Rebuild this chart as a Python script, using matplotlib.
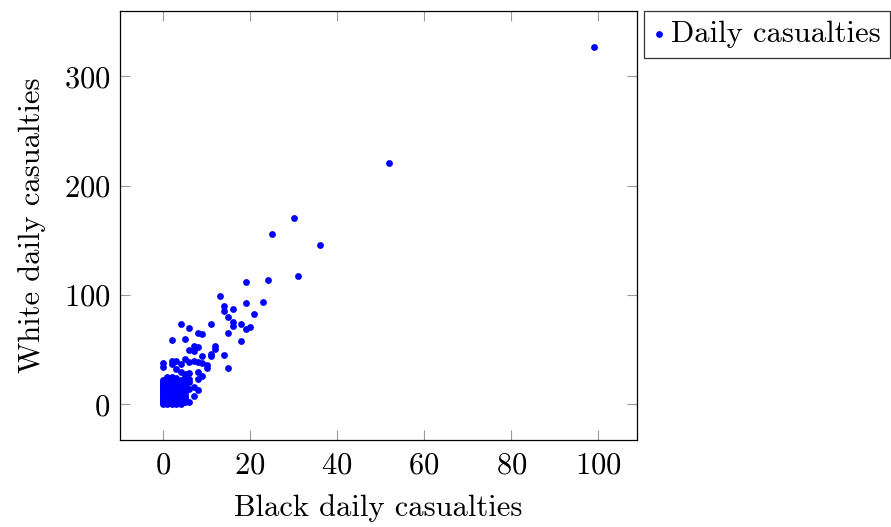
import matplotlib
matplotlib.use("Agg")
import matplotlib.pyplot as plt

plt.rcParams["font.family"] = "cmr10"
plt.rcParams["mathtext.fontset"] = "cm"
plt.rcParams["axes.formatter.use_mathtext"] = True

# outliers and mid-range days
black_mid = [99, 52, 30, 25, 36, 31, 24, 19, 13, 14, 14, 16, 19, 23, 21, 15, 16, 16,
             18, 19, 20, 15, 18, 4, 6, 11, 8, 9, 2, 5, 12, 12, 7, 8, 6, 7, 11, 11,
             14, 9, 0, 0, 2, 3, 5, 7, 6, 2, 4, 8, 9, 10, 10, 15, 8, 9, 8, 6, 6, 7,
             8, 7, 6, 5, 6, 5, 4, 3, 6, 5]
white_mid = [327, 221, 170, 156, 146, 117, 114, 112, 99, 90, 85, 87, 93, 94, 83, 80,
             75, 72, 73, 69, 71, 65, 58, 73, 70, 73, 65, 64, 59, 60, 53, 51, 53, 52,
             50, 49, 46, 44, 45, 44, 38, 34, 40, 40, 41, 40, 39, 37, 37, 39, 38, 36,
             33, 33, 30, 26, 23, 29, 23, 16, 13, 8, 2, 25, 20, 28, 30, 32, 14, 6]

# dense cluster of low-casualty days
black_low = [0] * 23 + [1] * 26 + [2] * 26 + [3] * 25 + [4] * 23 + [5] * 13
white_low = [0, 1, 2, 3, 4, 5, 6, 7, 8, 9, 10, 11, 12, 13, 14, 15, 16, 17, 18, 19, 20, 21, 22,
             0, 1, 2, 3, 4, 5, 6, 7, 8, 9, 10, 11, 12, 13, 14, 15, 16, 17, 18, 19, 20, 21, 22, 23, 24, 25,
             0, 1, 2, 3, 4, 5, 6, 7, 8, 9, 10, 11, 12, 13, 14, 15, 16, 17, 18, 19, 20, 21, 22, 23, 24, 25,
             0, 1, 2, 3, 4, 5, 6, 7, 8, 9, 10, 11, 12, 13, 14, 15, 16, 17, 18, 19, 20, 21, 22, 23, 24,
             0, 1, 2, 3, 4, 5, 6, 7, 8, 9, 10, 11, 12, 13, 14, 15, 16, 17, 18, 19, 20, 21, 22,
             2, 4, 6, 8, 10, 12, 14, 15, 16, 18, 20, 21, 22]

black = black_mid + black_low
white = white_mid + white_low

fig = plt.figure(figsize=(8.91, 5.27), dpi=100)
ax = fig.add_axes([0.1347, 0.165, 0.5802, 0.814])

ax.scatter(black, white, s=24, color="blue", linewidths=0, label="Daily casualties", zorder=3)

ax.set_xlim(-9.9, 108.9)
ax.set_ylim(-32.7, 359.7)
ax.set_xticks([0, 20, 40, 60, 80, 100])
ax.set_yticks([0, 100, 200, 300])
ax.tick_params(direction="in", length=7, width=0.8, color="#999999",
               top=True, right=True, labelsize=22, pad=7)
ax.tick_params(axis="x", pad=9)
for sp in ax.spines.values():
    sp.set_linewidth(0.9)

ax.set_xlabel("Black daily casualties", fontsize=22, labelpad=10)
ax.set_ylabel("White daily casualties", fontsize=22, labelpad=13)

leg = ax.legend(loc="upper left", bbox_to_anchor=(1.014, 1.0), fontsize=22,
                frameon=True, fancybox=False, edgecolor="black", handlelength=0.3,
                handletextpad=0.25, borderpad=0.32, markerscale=1.0, borderaxespad=0)
leg.get_frame().set_linewidth(0.9)

fig.savefig("out.png", dpi=100)
